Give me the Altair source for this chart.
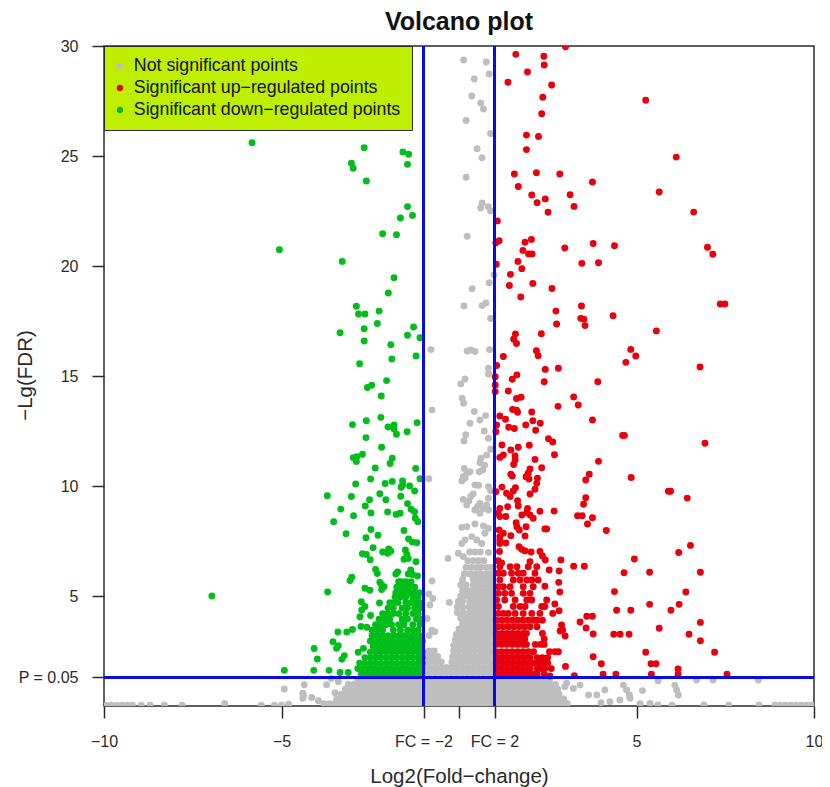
import altair as alt
import pandas as pd

title_text = "Volcano plot"
x_title = "Log2(Fold\u2212change)"
y_title = "\u2212Lg(FDR)"
x_ticks = [-10, -5, -1, 0, 1, 5, 10]
y_ticks = [1.3, 5, 10, 15, 20, 25, 30]
fc_cuts = [-1, 1]
p_cut = [1.3]
cat_ns = "Not significant points"
cat_up = "Significant up\u2212regulated points"
cat_down = "Significant down\u2212regulated points"

green_sparse = [
(-5.83,25.6),(-2.67,25.38),(-1.58,25.18),(-1.42,25.08),(-3.03,24.67),(-2.98,24.44),(-1.45,24.62),(-2.61,23.86),
(-1.45,22.7),(-1.31,22.3),(-1.65,22.18),(-2.15,21.47),(-1.76,21.42),(-5.06,20.74),(-3.29,20.21),(-1.83,19.47),
(-1.99,18.77),(-2.89,18.17),(-2.25,17.95),(-2.83,17.82),(-2.65,17.82),(-2.3,17.39),(-1.28,17.23),(-2.67,17.15),
(-3.35,16.97),(-1.45,16.85),(-1.1,16.74),(-2.67,16.59),(-1.92,16.42),(-1.21,15.91),(-1.89,15.77),(-2.8,15.56),
(-2.04,14.79),(-2.46,14.58),(-2.58,14.48),(-2.19,14.09),(-2.2,13.12),(-3.0,12.79),(-2.61,12.97),(-2.0,12.68),
(-1.83,12.77),(-1.83,12.59),(-1.76,12.35),(-1.46,12.47),(-1.18,12.88),(-2.62,12.2),(-2.18,11.76),(-2.72,11.44),
(-2.88,11.33),(-2.98,11.29),(-2.89,11.11),(-1.88,11.26),(-1.94,11.02),(-2.36,10.82),(-1.22,10.8),(-2.49,10.32),
(-1.88,10.21),(-2.08,10.11),(-2.91,10.09),(-1.59,10.23),(-1.1,10.33),(-1.63,9.94),(-1.39,10.0),(-1.59,10.05),
(-1.25,9.77),(-2.23,9.65),(-3.71,9.56),(-3.03,9.52),(-2.52,9.38),(-2.06,9.38),(-1.64,9.53),(-2.64,9.09),
(-1.45,9.2),(-3.33,8.95),(-1.35,8.94),(-1.25,8.83),(-2.48,8.77),(-2.01,8.82),(-1.77,8.71),(-1.66,8.76),
(-2.97,8.65),(-1.23,8.53),(-1.16,8.38),(-3.53,8.38),(-1.55,7.98),(-2.48,8.02),(-3.18,7.83),(-2.28,7.76),
(-2.62,7.65),(-1.42,7.59),(-1.31,7.45),(-1.19,7.42),(-2.42,7.2),(-2.15,7.0),(-1.98,7.14),(-1.92,7.03),
(-2.01,6.94),(-2.72,6.92),(-2.61,6.89),(-1.51,7.09),(-1.47,6.89),(-1.55,6.67),(-1.43,6.71),(-1.21,6.56),
(-2.5,6.65),(-2.35,6.21),(-2.3,6.02),(-1.73,6.09),(-1.78,6.0),(-1.36,6.18),(-1.43,6.0),(-1.31,5.98),
(-1.17,5.91),(-3.02,5.85),(-3.07,5.7),(-2.23,5.62),(-2.18,5.5),(-2.11,5.42),(-2.65,5.35),(-2.51,5.26),
(-2.18,5.29),(-3.7,5.18),(-6.96,5.0),(-2.75,4.74),(-2.24,4.68),(-2.65,4.52),(-2.74,4.36),(-2.79,4.06),
(-2.49,4.11),(-2.76,3.61),(-2.6,3.58),(-3.0,3.48),(-3.16,3.36),(-3.41,3.36),(-3.55,2.92),(-3.4,2.74),
(-3.45,2.62),(-4.08,2.61),(-3.99,2.14),(-3.23,2.29),(-3.3,2.12),(-2.84,2.44),(-2.69,2.62),(-4.92,1.62),
(-4.09,1.62),(-3.66,1.62),(-3.35,1.52),(-3.12,1.52),
]
green_rows = {
5.65:[-1.7,-1.62,-1.5,-1.35],
5.4:[-1.75,-1.65,-1.55,-1.42,-1.25],
5.15:[-1.78,-1.68,-1.55,-1.4,-1.28,-1.12],
4.95:[-1.8,-1.65,-1.5,-1.3,-1.15],
4.7:[-1.95,-1.82,-1.72,-1.5,-1.35,-1.2,-1.08],
4.45:[-2.0,-1.85,-1.6,-1.45,-1.25,-1.1],
4.2:[-2.15,-2.0,-1.85,-1.7,-1.5,-1.3,-1.15],
3.95:[-2.25,-2.1,-1.95,-1.6,-1.45,-1.2,-1.05],
3.7:[-2.35,-2.2,-2.05,-1.9,-1.7,-1.55,-1.3,-1.1],
3.45:[-2.45,-2.3,-2.15,-1.85,-1.65,-1.45,-1.3,-1.15],
3.2:[-2.45,-2.3,-2.15,-2.0,-1.85,-1.7,-1.55,-1.4,-1.25,-1.1],
2.95:[-2.5,-2.35,-2.2,-2.05,-1.9,-1.75,-1.6,-1.45,-1.3,-1.15,-1.03],
2.7:[-2.42,-2.27,-2.12,-1.97,-1.82,-1.67,-1.52,-1.37,-1.22,-1.07],
2.45:[-2.5,-2.35,-2.2,-2.05,-1.9,-1.75,-1.6,-1.45,-1.3,-1.15,-1.03],
2.2:[-2.65,-2.5,-2.35,-2.2,-2.05,-1.9,-1.75,-1.6,-1.45,-1.3,-1.15,-1.03],
1.95:[-2.8,-2.65,-2.5,-2.35,-2.2,-2.05,-1.9,-1.75,-1.6,-1.45,-1.3,-1.15,-1.03],
1.7:[-2.85,-2.7,-2.55,-2.4,-2.25,-2.1,-1.95,-1.8,-1.65,-1.5,-1.35,-1.2,-1.05],
1.45:[-2.75,-2.6,-2.45,-2.3,-2.15,-2.0,-1.85,-1.7,-1.55,-1.4,-1.25,-1.1],
}

red_sparse = [
(3.0,29.97),(1.6,29.62),(2.39,29.53),(2.4,29.14),(1.93,28.82),(1.38,28.35),(2.61,28.23),(2.36,27.67),(5.26,27.53),
(2.33,26.92),(1.9,25.95),(2.24,25.89),(1.9,25.29),(6.12,24.95),(1.56,24.18),(2.18,24.24),(2.84,24.18),(3.76,23.82),
(1.67,23.61),(5.64,23.36),(2.05,23.23),(3.13,23.24),(2.43,23.05),(2.2,22.88),(3.24,22.71),(2.51,22.44),(6.61,22.45),
(1.08,22.05),(1.13,21.15),(1.04,21.06),(2.04,21.21),(1.86,21.08),(3.78,21.02),(4.38,20.92),(2.98,20.82),(7.0,20.85),
(7.15,20.53),(1.8,20.71),(1.96,20.55),(2.06,20.55),(1.66,20.21),(1.05,20.08),(3.46,20.12),(3.93,20.15),(1.77,19.88),
(1.45,19.62),(1.42,19.11),(2.08,19.21),(2.62,18.98),(1.74,18.59),(3.45,18.18),(7.36,18.27),(7.49,18.27),(2.73,17.95),
(3.43,17.62),(3.52,17.58),(4.34,17.74),(2.75,17.36),(3.55,17.29),(5.56,17.05),(1.59,16.91),(2.32,16.92),(1.54,16.67),
(1.62,16.48),(2.18,16.15),(2.23,15.92),(4.84,16.21),(4.98,15.91),(4.7,15.62),(1.25,15.89),(1.06,15.48),(6.79,15.41),
(2.43,15.3),(2.8,15.35),(1.63,15.05),(1.5,14.85),(2.4,14.74),(3.91,14.74),(1.02,14.97),(1.02,14.59),(1.02,14.29),
(1.39,14.32),(1.62,13.98),(1.75,14.03),(3.23,14.05),(3.36,13.68),(2.79,13.62),(1.51,13.48),(1.62,13.45),(1.65,13.35),
(2.05,13.36),(1.15,13.18),(1.31,13.03),(2.08,12.97),(2.29,12.85),(1.88,12.77),(3.76,13.0),(1.4,12.67),(1.56,12.61),
(2.16,12.53),(1.06,12.77),(1.04,12.47),(2.52,12.15),(2.64,12.0),(4.61,12.3),(4.66,12.3),(6.93,11.94),(1.21,11.86),
(1.67,11.76),(1.98,11.85),(1.46,11.64),(1.25,11.41),(1.15,11.3),(2.69,11.42),(1.58,11.36),(1.58,11.18),(1.54,10.98),
(2.14,11.21),(3.93,11.12),(2.33,10.83),(2.0,10.77),(3.67,10.53),(3.57,10.27),(4.85,10.39),(1.46,10.53),(1.5,10.45),
(1.89,10.42),(1.95,10.58),(1.97,10.32),(2.21,10.35),(2.19,10.12),(2.14,9.85),(1.21,9.95),(1.59,9.92),(5.9,9.76),
(5.96,9.76),(6.43,9.45),(1.53,9.77),(1.34,9.67),(1.44,9.52),(1.04,9.74),(2.0,9.64),(3.57,9.47),(1.65,9.33),(3.51,9.17),
(1.67,9.09),(1.37,9.06),(1.15,8.98),(1.93,8.98),(2.28,8.85),(2.68,8.86),(1.1,8.76),(1.32,8.61),(1.15,8.61),(1.91,8.79),
(1.77,8.68),(2.0,8.68),(2.09,8.53),(3.34,8.65),(3.47,8.65),(3.76,8.56),(3.62,8.27),(1.61,8.33),(1.89,8.15),(1.63,8.15),
(1.7,8.0),(1.86,7.73),(2.47,8.05),(2.42,8.05),(4.15,7.98),(1.13,8.0),(1.25,7.85),(1.15,7.7),(1.46,7.74),(1.15,7.55),
(1.32,7.41),(1.15,7.39),(1.14,7.02),(1.69,7.24),(1.77,7.12),(1.86,7.05),(2.03,7.0),(2.28,7.02),(2.35,6.82),(2.43,6.64),
(2.87,6.64),(2.0,6.56),(6.52,7.3),(6.19,6.98),(4.94,6.68),(3.23,6.35),(3.53,6.35),(2.54,6.18),(2.82,6.14),(4.65,6.06),
(5.37,6.08),(6.8,6.08),(2.81,5.62),(2.42,5.44),(2.84,5.18),(4.38,5.2),(6.39,5.18),(5.37,4.62),(6.2,4.62),(2.7,4.64),
(4.44,4.35),(4.84,4.35),(5.97,4.35),(2.82,4.33),(2.64,4.21),(3.6,4.08),(3.76,4.08),(3.41,3.82),(6.8,3.8),(3.58,3.55),
(5.64,3.53),(2.89,3.68),(2.92,3.45),(2.85,3.41),(2.99,3.18),(3.78,3.27),(4.36,3.26),(4.54,3.26),(4.79,3.26),(6.48,3.26),
(6.8,2.97),(5.26,2.44),(7.2,2.44),(3.78,2.24),(3.0,1.8),(4.01,1.92),(5.41,1.92),(5.55,1.92),(6.17,1.68),(3.25,1.38),
(4.06,1.44),(4.42,1.44),(5.42,1.44),(6.17,1.44),(7.55,1.44),(2.56,1.36),(1.1,6.6),(1.2,6.5),
]
red_rows = {
6.33:[1.15,1.44,1.63,1.95,2.19],
6.03:[1.11,1.25,1.48,1.67,1.81,2.14],
5.73:[1.15,1.53,1.72,1.91,2.05,2.23],
5.42:[1.11,1.25,1.44,1.81,2.09],
5.12:[1.11,1.29,1.48,1.81,2.0],
4.82:[1.06,1.29,1.58,1.91,2.05,2.47],
4.52:[1.11,1.53,1.72,1.86,2.33,2.42],
4.21:[1.11,1.25,1.39,1.58,1.81,2.05,2.28],
3.9:[1.05,1.2,1.35,1.5,1.65,1.8,1.95,2.1,2.2,2.35],
3.6:[1.1,1.25,1.4,1.55,1.7,1.85,2.0,2.2],
3.3:[1.05,1.2,1.35,1.5,1.65,1.8,1.9,2.35],
3.05:[1.1,1.25,1.4,1.55,1.7,1.85,2.4],
2.8:[1.05,1.2,1.35,1.5,1.65,1.8,1.9,2.15,2.3,2.4],
2.47:[1.05,1.2,1.35,1.5,1.65,1.8,1.95,2.1,2.55,2.7,2.8],
2.2:[1.1,1.25,1.4,1.55,1.7,1.85,2.0,2.2,2.35,2.5],
1.95:[1.05,1.2,1.35,1.5,1.65,1.8,1.95,2.1,2.25,2.4,2.5],
1.7:[1.1,1.25,1.4,1.55,1.7,1.85,2.0,2.2,2.3,2.42,2.6],
1.45:[1.05,1.2,1.35,1.5,1.65,1.8,1.95,2.1,2.2,2.4],
}

grey_sparse = [
(0.13,29.36),(0.77,29.27),(0.85,28.73),(0.43,28.5),(0.36,27.73),(0.61,27.41),(0.69,27.14),(0.2,26.61),(0.89,26.02),
(0.51,25.33),(0.65,24.92),(0.2,24.03),(0.65,22.86),(0.61,22.64),(0.82,22.7),(0.89,22.5),(0.23,21.35),(0.99,19.59),
(0.85,19.24),(0.37,18.97),(0.14,18.18),(0.65,18.2),(0.76,18.32),(0.89,17.61),(-0.79,16.2),(0.23,16.14),(0.33,16.18),
(0.45,16.11),(0.86,16.2),(0.83,15.35),(0.17,14.86),(0.05,14.64),(0.83,15.09),(0.09,13.98),(0.13,13.76),(-0.76,13.45),
(0.43,13.39),(0.75,13.2),(0.59,13.0),(0.31,12.85),(0.71,12.5),(0.19,12.33),(0.14,12.05),(0.83,12.17),(0.89,11.67),
(0.78,11.41),(0.62,11.26),(0.59,11.06),(0.72,10.95),(0.15,10.8),(0.31,10.65),(0.22,10.58),(0.12,10.42),(0.08,10.23),
(0.17,10.35),(0.67,10.73),(0.57,10.65),(-0.85,10.33),(0.45,10.05),(0.55,10.03),(0.83,9.97),(0.89,9.79),(0.4,9.64),
(0.33,9.52),(0.12,9.39),(0.28,9.32),(0.83,9.44),(0.59,9.21),(0.78,9.14),(0.52,9.06),(0.22,9.14),(0.45,8.91),(0.59,8.76),
(0.83,8.91),(0.69,8.98),(0.08,8.12),(0.22,8.15),(0.45,8.27),(0.69,8.18),(0.83,8.08),(0.73,7.85),(0.36,7.7),(0.17,7.55),
(0.08,7.39),(0.5,7.55),(0.64,7.39),(0.83,6.98),(-0.02,6.94),(0.12,6.79),(-0.31,6.71),(-0.76,5.68),(-0.85,5.09),
(-0.74,4.89),(-0.82,4.59),(-0.27,4.71),(-0.9,3.98),(-0.77,3.45),(-0.68,3.38),(-0.84,3.2),
(3.03,1.03),(2.98,0.88),(3.41,0.95),(3.22,0.8),(3.65,0.5),(3.88,0.5),(4.11,0.73),(4.63,0.95),(4.72,0.73),(4.8,0.5),
(4.82,0.35),(4.53,0.27),(4.25,0.2),(4.0,0.15),(5.17,0.7),(6.08,0.95),(6.13,0.73),(6.18,0.5),(5.61,1.15),(6.69,1.18),
(7.16,1.18),(8.43,1.18),(5.38,0.12),(5.1,0.1),(5.6,0.05),(6.0,0.04),(6.9,0.05),(7.6,0.04),(8.45,0.04),
(-4.92,0.77),(-4.36,0.97),(-4.4,0.58),(-4.4,0.35),(-4.38,0.48),(-4.15,0.39),(-3.96,0.24),(-3.73,0.97),(-3.49,0.6),
(-3.6,1.25),(-3.4,1.1),(-6.6,0.12),(-5.57,0.03),(-5.2,0.03),(-5.0,0.03),(-4.8,0.08),(-8.95,0.03),(-8.7,0.03),(-8.3,0.03),
(-7.8,0.03),(-9.95,0.03),(-9.8,0.03),(-9.65,0.03),(-9.5,0.03),(-9.35,0.03),(-9.2,0.03),
(8.9,0.03),(9.05,0.03),(9.2,0.03),(9.35,0.03),(9.5,0.03),(9.65,0.03),(9.8,0.03),(9.95,0.03),
]
grey_rows = {
7.0:[0.3,0.45,0.6],
6.6:[0.25,0.4,0.55,0.7],
6.3:[0.2,0.35,0.5,0.62,0.78,0.9],
6.0:[0.15,0.3,0.45,0.6,0.75,0.88],
5.75:[0.1,0.4,0.55,0.7,0.85,0.95],
5.5:[0.05,0.2,0.4,0.55,0.7,0.85,0.95],
5.25:[0.1,0.25,0.4,0.55,0.7,0.85,0.95],
5.0:[0.05,0.2,0.35,0.5,0.65,0.8,0.95],
4.75:[-0.02,0.1,0.3,0.45,0.6,0.75,0.9],
4.5:[-0.05,0.1,0.28,0.42,0.58,0.72,0.88],
4.25:[-0.05,0.12,0.3,0.45,0.6,0.75,0.9],
4.0:[0.05,0.2,0.35,0.5,0.65,0.8,0.95],
3.75:[0.1,0.25,0.4,0.55,0.7,0.85,0.95],
3.5:[0.0,0.15,0.3,0.45,0.6,0.75,0.9],
3.25:[-0.08,0.07,0.22,0.37,0.52,0.67,0.82,0.95],
3.0:[-0.1,0.05,0.2,0.35,0.5,0.65,0.8,0.95],
2.75:[-0.15,0.0,0.15,0.3,0.45,0.6,0.75,0.9],
2.5:[-0.85,-0.7,-0.15,0.0,0.15,0.3,0.45,0.6,0.75,0.9],
2.25:[-0.9,-0.75,-0.6,-0.18,-0.03,0.12,0.27,0.42,0.57,0.72,0.87],
2.0:[-0.95,-0.8,-0.65,-0.5,-0.2,-0.05,0.1,0.25,0.4,0.55,0.7,0.85,0.97],
1.75:[-0.95,-0.8,-0.65,-0.5,-0.35,-0.2,-0.05,0.1,0.25,0.4,0.55,0.7,0.85,0.97],
1.5:[-0.97,-0.82,-0.67,-0.52,-0.37,-0.22,-0.07,0.08,0.23,0.38,0.53,0.68,0.83,0.97],
1.2:[-2.85,-2.7,-2.55,-2.4,-2.25,-2.1,-1.95,-1.8,-1.65,-1.5,-1.35,-1.2,-1.05,-0.9,-0.75,-0.6,-0.45,-0.3,-0.15,0.0,0.15,0.3,0.45,0.6,0.75,0.9,1.05,1.2,1.35,1.5,1.65,1.8,1.95,2.1,2.25,2.4,2.55],
0.98:[-3.12,-2.97,-2.82,-2.67,-2.52,-2.37,-2.22,-2.07,-1.92,-1.77,-1.62,-1.47,-1.32,-1.17,-1.02,-0.87,-0.72,-0.57,-0.42,-0.27,-0.12,0.03,0.18,0.33,0.48,0.63,0.78,0.93,1.08,1.23,1.38,1.53,1.68,1.83,1.98,2.13,2.28,2.43,2.58,2.72],
0.76:[-3.2,-3.05,-2.9,-2.75,-2.6,-2.45,-2.3,-2.15,-2.0,-1.85,-1.7,-1.55,-1.4,-1.25,-1.1,-0.95,-0.8,-0.65,-0.5,-0.35,-0.2,-0.05,0.1,0.25,0.4,0.55,0.7,0.85,1.0,1.15,1.3,1.45,1.6,1.75,1.9,2.05,2.2,2.35,2.5,2.65,2.78],
0.54:[-3.32,-3.17,-3.02,-2.87,-2.72,-2.57,-2.42,-2.27,-2.12,-1.97,-1.82,-1.67,-1.52,-1.37,-1.22,-1.07,-0.92,-0.77,-0.62,-0.47,-0.32,-0.17,-0.02,0.13,0.28,0.43,0.58,0.73,0.88,1.03,1.18,1.33,1.48,1.63,1.78,1.93,2.08,2.23,2.38,2.53,2.68,2.82],
0.32:[-3.45,-3.3,-3.15,-3.0,-2.85,-2.7,-2.55,-2.4,-2.25,-2.1,-1.95,-1.8,-1.65,-1.5,-1.35,-1.2,-1.05,-0.9,-0.75,-0.6,-0.45,-0.3,-0.15,0.0,0.15,0.3,0.45,0.6,0.75,0.9,1.05,1.2,1.35,1.5,1.65,1.8,1.95,2.1,2.25,2.4,2.55,2.7,2.85,2.95],
0.1:[-3.8,-3.65,-3.5,-3.37,-3.22,-3.07,-2.92,-2.77,-2.62,-2.47,-2.32,-2.17,-2.02,-1.87,-1.72,-1.57,-1.42,-1.27,-1.12,-0.97,-0.82,-0.67,-0.52,-0.37,-0.22,-0.07,0.08,0.23,0.38,0.53,0.68,0.83,0.98,1.13,1.28,1.43,1.58,1.73,1.88,2.03,2.18,2.33,2.48,2.63,2.78,2.93,3.05],
}

def frame(sparse, rows, cat):
    pairs = list(sparse) + [(x, y) for y, xs in rows.items() for x in xs]
    return pd.DataFrame({"fc": [p[0] for p in pairs], "fdr": [p[1] for p in pairs], "cat": cat})

points = pd.concat([
    frame(grey_sparse, grey_rows, cat_ns),
    frame(red_sparse, red_rows, cat_up),
    frame(green_sparse, green_rows, cat_down),
], ignore_index=True)

x_scale = alt.Scale(domain=[-10, 10], nice=False, zero=False)
y_scale = alt.Scale(domain=[0, 30], nice=False, zero=False)
FONT = "Liberation Sans"
INK = "#2a2a2a"

x_label = ("datum.value==-1?'FC = \u22122':datum.value==1?'FC = 2':datum.value==0?'':"
           "datum.value<0?'\u2212'+abs(datum.value):''+datum.value")
y_label = "datum.value==1.3?'P = 0.05':''+datum.value"

dots = alt.Chart(points).mark_circle(size=48, opacity=1, clip=True).encode(
    x=alt.X("fc:Q", scale=x_scale, title=x_title, axis=alt.Axis(
        values=x_ticks, labelExpr=x_label, labelOverlap=False, labelBound=False, labelFlush=False,
        tickSize=12, labelPadding=15, titleY=60, grid=False, domain=False)),
    y=alt.Y("fdr:Q", scale=y_scale, title=y_title, axis=alt.Axis(
        values=y_ticks, labelExpr=y_label, labelOverlap=False, labelBound=False, labelFlush=False,
        tickSize=12, labelPadding=14, titleX=-69, titleY=329, grid=False, domain=False)),
    color=alt.Color("cat:N", scale=alt.Scale(domain=[cat_ns, cat_up, cat_down],
                                             range=["#BEBEBE", "#E8000D", "#00BE19"]),
                    legend=alt.Legend(title=None, orient="none", legendX=0, legendY=0, zindex=2,
                                      fillColor="#BFEF00", strokeColor=INK, padding=11,
                                      symbolType="circle", symbolSize=40, symbolStrokeWidth=0,
                                      symbolOffset=-4,
                                      labelFont=FONT, labelFontSize=17.8, labelColor="#111111",
                                      labelLimit=400, rowPadding=3, labelOffset=5)),
)
vlines = alt.Chart(pd.DataFrame({"fc": fc_cuts})).mark_rule(color="#0A0AE6", strokeWidth=3).encode(
    x=alt.X("fc:Q", scale=x_scale))
hline = alt.Chart(pd.DataFrame({"fdr": p_cut})).mark_rule(color="#0A0AE6", strokeWidth=3).encode(
    y=alt.Y("fdr:Q", scale=y_scale))

chart = alt.layer(dots, vlines, hline).properties(
    width=710, height=660,
    autosize=alt.AutoSizeParams(type="none"),
    padding={"left": 96, "top": 38, "right": 8, "bottom": 81},
    title=alt.TitleParams(title_text, font=FONT, fontSize=25, fontWeight="bold", color="#111111",
                          anchor="middle", offset=3),
).configure_view(stroke=INK, strokeWidth=1.5).configure_axis(
    labelFont=FONT, labelFontSize=16, labelColor=INK, titleFont=FONT, titleFontSize=20.5,
    titleColor=INK, titleFontWeight="normal", tickColor=INK, tickWidth=1.5,
)
chart.save("out.html", embed_options={"renderer": "svg", "actions": False})
